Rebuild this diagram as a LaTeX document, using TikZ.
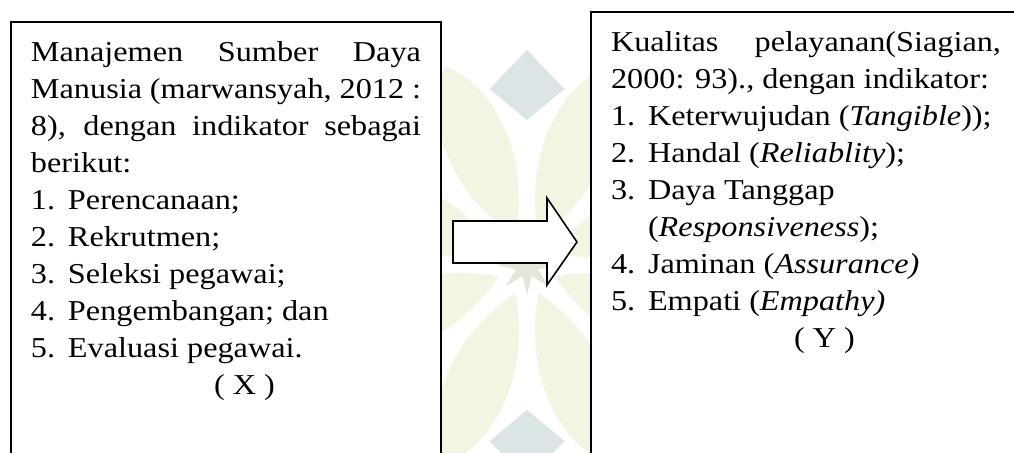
\documentclass[tikz,border=0pt]{standalone}
\usepackage{fontspec}
\setmainfont[FakeStretch=1.12]{Liberation Serif}
\usepackage{xcolor}
\usetikzlibrary{positioning}

\definecolor{daunhijau}{HTML}{F2F5E2}
\definecolor{daunabu}{HTML}{DCE5E5}
\definecolor{bintang}{HTML}{E4E6DA}

\newcommand{\butir}[2]{\par\hangindent=18.5pt\hangafter=1\noindent\makebox[18.5pt][l]{#1}#2}
\newcommand{\variabel}[1]{\par\noindent\hspace*{18.5pt}\makebox[176.5pt][c]{#1}}

\tikzset{
	kotak/.style={draw,line width=1pt,fill=white,anchor=north west,text width=195pt,inner sep=10pt,align=justify,font=\fontsize{14.4pt}{18.45pt}\selectfont},
	panah/.style={draw,line width=0.8pt,fill=white,line join=miter},
}

\begin{document}
\begin{tikzpicture}[x=0.5pt,y=-0.5pt]
	\useasboundingbox (0,0) rectangle (1014,453);
	\clip (0,0) rectangle (1014,453);
	% logo di belakang
	\begin{scope}[shift={(527,265)}]
		\foreach \a in {22.5,67.5,...,337.5}
			\fill[daunhijau] (\a:30) .. controls (\a-25:120) and (\a-10:190) .. (\a:215) .. controls (\a+10:190) and (\a+25:120) .. (\a:30);
		\foreach \a in {0,45,...,315}
			\fill[daunabu] (\a:145) -- (\a+12:180) -- (\a:215) -- (\a-12:180) -- cycle;
		\fill[bintang] (0:30) \foreach \a in {22.5,45,...,337.5} {-- (\a:{mod(\a,45)==0 ? 30 : 12})} -- cycle;
	\end{scope}
	\node[kotak] (kiri) at (10,21) {Manajemen Sumber Daya\linebreak Manusia (marwansyah, 2012~:\linebreak 8), dengan indikator sebagai\linebreak berikut:
		\butir{1.}{Perencanaan;}
		\butir{2.}{Rekrutmen;}
		\butir{3.}{Seleksi pegawai;}
		\butir{4.}{Pengembangan; dan}
		\butir{5.}{Evaluasi pegawai.}
		\variabel{( X )}
		\par\noindent\rule{0pt}{70pt}};
	\node[kotak] (kanan) at (590,11) {Kualitas pelayanan(Siagian,\linebreak 2000: 93)., dengan indikator:
		\butir{1.}{Keterwujudan (\textit{Tangible}));}
		\butir{2.}{Handal (\textit{Reliablity});}
		\butir{3.}{Daya Tanggap\newline(\textit{Responsiveness});}
		\butir{4.}{Jaminan (\textit{Assurance)}}
		\butir{5.}{Empati (\textit{Empathy)}}
		\variabel{( Y )}
		\par\noindent\rule{0pt}{70pt}};
	\draw[panah] (453,221) -- (547,221) -- (547,198) -- (577,242) -- (547,285) -- (547,263) -- (453,263) -- cycle;
\end{tikzpicture}
\end{document}
